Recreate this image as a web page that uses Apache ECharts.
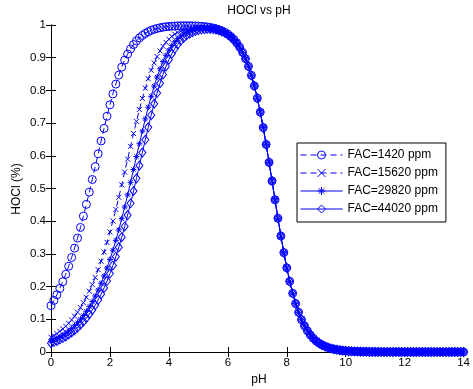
<!DOCTYPE html>
<html>
<head>
<meta charset="utf-8">
<script src="https://cdn.jsdelivr.net/npm/echarts@6/dist/echarts.min.js"></script>
<style>
html,body{margin:0;padding:0;background:#fff;}
#chart{width:473px;height:389px;}
</style>
</head>
<body>
<div id="chart"></div>
<script>
const pH = [
0,0.1,0.2,0.3,0.4,0.5,0.6,0.7,0.8,0.9,
1,1.1,1.2,1.3,1.4,1.5,1.6,1.7,1.8,1.9,
2,2.1,2.2,2.3,2.4,2.5,2.6,2.7,2.8,2.9,
3,3.1,3.2,3.3,3.4,3.5,3.6,3.7,3.8,3.9,
4,4.1,4.2,4.3,4.4,4.5,4.6,4.7,4.8,4.9,
5,5.1,5.2,5.3,5.4,5.5,5.6,5.7,5.8,5.9,
6,6.1,6.2,6.3,6.4,6.5,6.6,6.7,6.8,6.9,
7,7.1,7.2,7.3,7.4,7.5,7.6,7.7,7.8,7.9,
8,8.1,8.2,8.3,8.4,8.5,8.6,8.7,8.8,8.9,
9,9.1,9.2,9.3,9.4,9.5,9.6,9.7,9.8,9.9,
10,10.1,10.2,10.3,10.4,10.5,10.6,10.7,10.8,10.9,
11,11.1,11.2,11.3,11.4,11.5,11.6,11.7,11.8,11.9,
12,12.1,12.2,12.3,12.4,12.5,12.6,12.7,12.8,12.9,
13,13.1,13.2,13.3,13.4,13.5,13.6,13.7,13.8,13.9,
14
];

const seriesNames = ['FAC=1420 ppm', 'FAC=15620 ppm', 'FAC=29820 ppm', 'FAC=44020 ppm'];

const hoclFAC1420 = [
0.1418,0.1577,0.1751,0.1942,0.2150,0.2377,0.2624,0.2890,0.3177,0.3484,
0.3809,0.4154,0.4514,0.4889,0.5275,0.5667,0.6062,0.6454,0.6839,0.7209,
0.7561,0.7891,0.8193,0.8467,0.8711,0.8925,0.9111,0.9269,0.9402,0.9514,
0.9606,0.9682,0.9744,0.9795,0.9836,0.9869,0.9895,0.9916,0.9933,0.9947,
0.9955,0.9963,0.9969,0.9973,0.9976,0.9978,0.9978,0.9977,0.9975,0.9972,
0.9967,0.9961,0.9952,0.9941,0.9926,0.9908,0.9885,0.9857,0.9821,0.9776,
0.9719,0.9649,0.9563,0.9456,0.9324,0.9164,0.8970,0.8737,0.8460,0.8136,
0.7762,0.7336,0.6863,0.6347,0.5799,0.5230,0.4655,0.4089,0.3546,0.3039,
0.2574,0.2160,0.1795,0.1480,0.1213,0.0988,0.0801,0.0647,0.0521,0.0418,
0.0335,0.0268,0.0214,0.0171,0.0136,0.0108,0.0086,0.0069,0.0055,0.0043,
0.0035,0.0027,0.0022,0.0017,0.0014,0.0011,0.0009,0.0007,0.0005,0.0004,
0.0003,0.0003,0.0002,0.0002,0.0001,0.0001,0.0001,0.0001,0.0001,0,
0,0,0,0,0,0,0,0,0,0,
0,0,0,0,0,0,0,0,0,0,
0
];

const hoclFAC15620 = [
0.0451,0.0504,0.0564,0.0631,0.0705,0.0787,0.0879,0.0981,0.1094,0.1218,
0.1356,0.1508,0.1676,0.1859,0.2060,0.2279,0.2518,0.2776,0.3054,0.3352,
0.3670,0.4007,0.4361,0.4730,0.5112,0.5502,0.5896,0.6290,0.6679,0.7055,
0.7416,0.7755,0.8069,0.8356,0.8613,0.8839,0.9036,0.9206,0.9349,0.9470,
0.9567,0.9649,0.9716,0.9770,0.9813,0.9847,0.9874,0.9894,0.9909,0.9919,
0.9925,0.9927,0.9925,0.9920,0.9910,0.9895,0.9875,0.9849,0.9814,0.9771,
0.9715,0.9646,0.9560,0.9454,0.9323,0.9163,0.8969,0.8737,0.8460,0.8136,
0.7762,0.7336,0.6863,0.6347,0.5799,0.5230,0.4655,0.4089,0.3546,0.3039,
0.2574,0.2160,0.1795,0.1480,0.1213,0.0988,0.0801,0.0647,0.0521,0.0418,
0.0335,0.0268,0.0214,0.0171,0.0136,0.0108,0.0086,0.0069,0.0055,0.0043,
0.0035,0.0027,0.0022,0.0017,0.0014,0.0011,0.0009,0.0007,0.0005,0.0004,
0.0003,0.0003,0.0002,0.0002,0.0001,0.0001,0.0001,0.0001,0.0001,0,
0,0,0,0,0,0,0,0,0,0,
0,0,0,0,0,0,0,0,0,0,
0
];

const hoclFAC29820 = [
0.0329,0.0368,0.0412,0.0461,0.0516,0.0577,0.0645,0.0721,0.0805,0.0899,
0.1003,0.1118,0.1245,0.1386,0.1541,0.1711,0.1898,0.2103,0.2326,0.2568,
0.2830,0.3112,0.3414,0.3736,0.4077,0.4434,0.4806,0.5189,0.5581,0.5975,
0.6369,0.6755,0.7129,0.7486,0.7820,0.8129,0.8409,0.8660,0.8881,0.9072,
0.9234,0.9372,0.9487,0.9583,0.9660,0.9723,0.9774,0.9814,0.9845,0.9868,
0.9884,0.9895,0.9899,0.9899,0.9893,0.9882,0.9865,0.9840,0.9808,0.9766,
0.9712,0.9643,0.9558,0.9452,0.9322,0.9162,0.8968,0.8736,0.8460,0.8136,
0.7762,0.7336,0.6863,0.6347,0.5799,0.5230,0.4655,0.4089,0.3546,0.3039,
0.2574,0.2160,0.1795,0.1480,0.1213,0.0988,0.0801,0.0647,0.0521,0.0418,
0.0335,0.0268,0.0214,0.0171,0.0136,0.0108,0.0086,0.0069,0.0055,0.0043,
0.0035,0.0027,0.0022,0.0017,0.0014,0.0011,0.0009,0.0007,0.0005,0.0004,
0.0003,0.0003,0.0002,0.0002,0.0001,0.0001,0.0001,0.0001,0.0001,0,
0,0,0,0,0,0,0,0,0,0,
0,0,0,0,0,0,0,0,0,0,
0
];

const hoclFAC44020 = [
0.0271,0.0304,0.0340,0.0381,0.0427,0.0477,0.0534,0.0597,0.0668,0.0746,
0.0833,0.0930,0.1037,0.1156,0.1287,0.1432,0.1592,0.1767,0.1960,0.2170,
0.2399,0.2647,0.2915,0.3204,0.3512,0.3840,0.4186,0.4548,0.4924,0.5310,
0.5703,0.6098,0.6489,0.6872,0.7242,0.7592,0.7919,0.8219,0.8490,0.8732,
0.8941,0.9123,0.9278,0.9408,0.9517,0.9606,0.9678,0.9736,0.9782,0.9817,
0.9844,0.9862,0.9874,0.9879,0.9877,0.9869,0.9855,0.9832,0.9802,0.9761,
0.9708,0.9640,0.9556,0.9450,0.9320,0.9161,0.8968,0.8735,0.8459,0.8135,
0.7762,0.7336,0.6863,0.6347,0.5799,0.5230,0.4655,0.4089,0.3546,0.3039,
0.2574,0.2160,0.1795,0.1480,0.1213,0.0988,0.0801,0.0647,0.0521,0.0418,
0.0335,0.0268,0.0214,0.0171,0.0136,0.0108,0.0086,0.0069,0.0055,0.0043,
0.0035,0.0027,0.0022,0.0017,0.0014,0.0011,0.0009,0.0007,0.0005,0.0004,
0.0003,0.0003,0.0002,0.0002,0.0001,0.0001,0.0001,0.0001,0.0001,0,
0,0,0,0,0,0,0,0,0,0,
0,0,0,0,0,0,0,0,0,0,
0
];

const xTicks = [0, 2, 4, 6, 8, 10, 12, 14];
const yTicks = [0, 0.1, 0.2, 0.3, 0.4, 0.5, 0.6, 0.7, 0.8, 0.9, 1];

const FONT = 'Liberation Sans, Arial, Helvetica, sans-serif';
const BLUE = '#0000ff';
const CLEAR = 'rgba(0,0,0,0)';

const SYM_CIRCLE = 'path://M10,5A5,5,0,1,1,0,5A5,5,0,1,1,10,5Z';
const SYM_X = 'path://M0,0L10,10M10,0L0,10';
const SYM_STAR = 'path://M5,0L5,10M0,5L10,5M1.5,1.5L8.5,8.5M8.5,1.5L1.5,8.5';
const SYM_DIAMOND = 'path://M5,0L10,5L5,10L0,5Z';

const seriesSymbols = [SYM_CIRCLE, SYM_X, SYM_STAR, SYM_DIAMOND];
const seriesDashed = [true, true, false, false];

function pairs(ys) { return pH.map((x, i) => [x, ys[i]]); }

const chart = echarts.init(document.getElementById('chart'), null, {renderer: 'canvas'});

function dashOf(d) { return d ? [6, 4] : 'solid'; }

function mkSeries(idx, ys, size) {
  return {
    name: seriesNames[idx],
    type: 'line',
    data: pairs(ys),
    xAxisIndex: 0,
    yAxisIndex: 0,
    symbol: seriesSymbols[idx],
    symbolSize: size,
    showSymbol: true,
    showAllSymbol: true,
    animation: false,
    lineStyle: {color: BLUE, width: 1, type: dashOf(seriesDashed[idx])},
    itemStyle: {color: CLEAR, borderColor: BLUE, borderWidth: 1},
    emphasis: {disabled: true},
    z: 2
  };
}

const axisLineStyle = {show: true, lineStyle: {color: '#000', width: 1}};
const tickStyle = {show: true, inside: true, length: 5, lineStyle: {color: '#000', width: 1}};

const option = {
  backgroundColor: '#fff',
  animation: false,
  textStyle: {fontFamily: FONT},
  grid: {left: 51, top: 25, width: 419, height: 327, containLabel: false},
  xAxis: [{
    type: 'value', min: 0, max: 14, interval: 2, position: 'bottom',
    axisLine: axisLineStyle, axisTick: tickStyle, splitLine: {show: false},
    axisLabel: {color: '#000', fontSize: 11.5, fontFamily: FONT, margin: 5,
      formatter: v => xTicks.indexOf(v) >= 0 ? String(v) : ''}
  }, {
    type: 'value', min: 0, max: 14, interval: 2, position: 'top',
    axisLine: axisLineStyle, axisTick: tickStyle, splitLine: {show: false},
    axisLabel: {show: false}
  }],
  yAxis: [{
    type: 'value', min: 0, max: 1, interval: 0.1, position: 'left',
    axisLine: axisLineStyle, axisTick: tickStyle, splitLine: {show: false},
    axisLabel: {color: '#000', fontSize: 11.5, fontFamily: FONT, margin: 5,
      formatter: v => { const t = yTicks.find(y => Math.abs(y - v) < 1e-9); return t === undefined ? '' : String(t); }}
  }, {
    type: 'value', min: 0, max: 1, interval: 0.1, position: 'right',
    axisLine: axisLineStyle, axisTick: tickStyle, splitLine: {show: false},
    axisLabel: {show: false}
  }],
  legend: {
    orient: 'vertical',
    left: 297, top: 143,
    padding: [6, 8, 7, 3],
    itemGap: 6,
    itemWidth: 42,
    itemHeight: 10,
    backgroundColor: '#fff',
    borderColor: '#000',
    borderWidth: 1,
    borderRadius: 0,
    selectedMode: false,
    itemStyle: {color: CLEAR, borderColor: BLUE, borderWidth: 1},
    lineStyle: {color: BLUE, width: 1},
    textStyle: {color: '#000', fontSize: 12, fontFamily: FONT, lineHeight: 12},
    data: seriesNames.map((n, i) => ({
      name: n,
      itemStyle: {color: CLEAR, borderColor: BLUE, borderWidth: 1},
      lineStyle: {color: BLUE, width: 1, type: dashOf(seriesDashed[i])}
    }))
  },
  graphic: [
    {type: 'text', x: 259, y: 11, z: 10, style: {text: 'HOCl vs pH', fill: '#000', font: '12px ' + FONT, align: 'center', verticalAlign: 'middle'}},
    {type: 'text', x: 259, y: 380, z: 10, style: {text: 'pH', fill: '#000', font: '12px ' + FONT, align: 'center', verticalAlign: 'middle'}},
    {type: 'text', x: 17, y: 189, rotation: Math.PI / 2, z: 10, style: {text: 'HOCl (%)', fill: '#000', font: '12px ' + FONT, align: 'center', verticalAlign: 'middle'}}
  ],
  series: [
    mkSeries(0, hoclFAC1420, 8),
    mkSeries(1, hoclFAC15620, 5),
    mkSeries(2, hoclFAC29820, 6),
    mkSeries(3, hoclFAC44020, [7, 9])
  ]
};

chart.setOption(option);
</script>
</body>
</html>
